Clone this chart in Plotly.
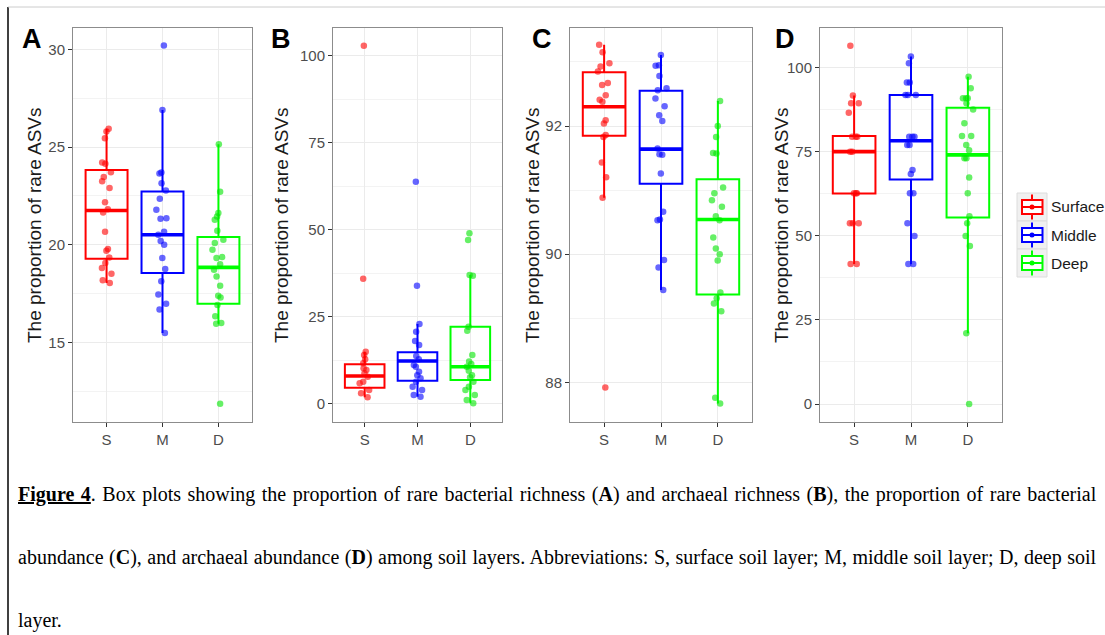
import plotly.graph_objects as go

W, H = 1105, 635

categories = ["S", "M", "D"]
layers = ["Surface", "Middle", "Deep"]
line_colors = ["#ff0000", "#0000ff", "#00ff00"]
point_colors = ["rgba(255,0,0,0.6)", "rgba(0,0,255,0.6)", "rgba(0,230,0,0.6)"]

# ---------------- Panel A: rare bacterial richness ----------------
A_surface = [25.93, 25.79, 25.45, 24.21, 24.14, 23.71, 23.46, 23.25, 22.90, 22.18, 21.82,
             21.65, 20.66, 19.78, 19.69, 19.35, 19.06, 18.81, 18.52, 18.18, 18.04]
A_middle = [30.19, 26.90, 23.70, 23.65, 23.15, 22.78, 22.35, 21.79, 21.35, 21.33, 20.66,
            20.51, 20.19, 20.00, 19.32, 18.76, 18.13, 17.46, 16.98, 16.68, 15.49]
A_deep = [25.14, 22.71, 21.62, 21.45, 21.28, 20.72, 20.26, 20.09, 19.74, 19.37, 19.32,
          19.00, 18.72, 18.38, 17.90, 17.39, 17.30, 16.92, 16.34, 16.00, 15.96, 11.87]
A_q1 = [19.28, 18.55, 16.98]
A_median = [21.75, 20.51, 18.84]
A_q3 = [23.82, 22.73, 20.39]
A_lower = [18.04, 15.49, 15.96]
A_upper = [25.93, 26.90, 25.14]

# ---------------- Panel B: rare archaeal richness ----------------
B_surface = [102.97, 35.95, 14.96, 14.0, 12.75, 11.6, 10.16, 9.68, 8.72, 7.77, 6.33,
             5.85, 3.93, 2.97, 1.82]
B_middle = [63.85, 33.9, 22.9, 20.7, 18.0, 16.9, 13.7, 12.8, 11.1, 10.6, 9.2, 8.2,
            7.3, 6.3, 4.9, 3.9, 2.5, 2.0]
B_deep = [49.0, 47.1, 37.0, 36.8, 22.1, 21.0, 14.0, 12.1, 11.4, 10.6, 9.5, 8.2, 7.6,
          6.3, 4.9, 3.9, 2.5, 1.05, 0.1]
B_q1 = [4.60, 6.62, 6.80]
B_median = [7.96, 12.27, 10.64]
B_q3 = [11.31, 14.77, 22.10]
B_lower = [1.82, 2.0, 0.1]
B_upper = [14.96, 22.9, 37.0]

# ---------------- Panel C: rare bacterial abundance ----------------
C_surface = [93.27, 93.15, 92.98, 92.93, 92.85, 92.67, 92.64, 92.48, 92.41, 92.38,
             92.09, 92.04, 91.86, 91.83, 91.43, 91.20, 90.88, 87.92]
C_middle = [93.11, 92.95, 92.94, 92.78, 92.59, 92.56, 92.43, 92.31, 92.17, 92.08,
            91.65, 91.56, 91.55, 91.26, 90.66, 90.54, 90.53, 89.91, 89.79, 89.44]
C_deep = [92.39, 92.00, 91.83, 91.58, 91.57, 91.04, 90.95, 90.84, 90.74, 90.59, 90.53,
          90.26, 90.09, 90.00, 89.90, 89.40, 89.31, 89.23, 89.11, 87.76, 87.67]
C_q1 = [91.85, 91.10, 89.37]
C_median = [92.30, 91.64, 90.54]
C_q3 = [92.84, 92.55, 91.17]
C_lower = [90.88, 89.44, 87.67]
C_upper = [93.27, 93.11, 92.39]

# ---------------- Panel D: rare archaeal abundance ----------------
D_surface = [106.4, 91.6, 89.3, 89.3, 86.5, 79.4, 79.4, 79.4, 74.95, 74.95, 62.6, 62.6,
             62.6, 53.7, 53.7, 53.7, 41.6, 41.6]
D_middle = [103.2, 101.2, 95.5, 95.5, 91.8, 91.8, 91.8, 79.4, 79.4, 79.4, 76.9, 76.9,
            69.5, 68.3, 62.6, 62.6, 53.7, 49.9, 41.6, 41.6]
D_deep = [97.2, 93.8, 90.8, 90.8, 90.8, 89.3, 87.5, 83.4, 79.6, 79.6, 76.9, 75.4, 73.0,
          73.0, 67.3, 62.6, 55.8, 53.7, 49.9, 46.9, 21.0, 0.0]
D_q1 = [62.5, 66.7, 55.4]
D_median = [74.95, 78.2, 74.0]
D_q3 = [79.6, 91.8, 88.0]
D_lower = [41.6, 41.6, 21.0]
D_upper = [91.6, 103.2, 97.2]

panels = [
    dict(letter="A", pts=[A_surface, A_middle, A_deep], q1=A_q1, med=A_median, q3=A_q3,
         lo=A_lower, hi=A_upper, yrange=[10.93, 31.09], dtick=5, minor=2.5, px=(73, 252)),
    dict(letter="B", pts=[B_surface, B_middle, B_deep], q1=B_q1, med=B_median, q3=B_q3,
         lo=B_lower, hi=B_upper, yrange=[-5.27, 108.05], dtick=25, minor=12.5, px=(333, 502)),
    dict(letter="C", pts=[C_surface, C_middle, C_deep], q1=C_q1, med=C_median, q3=C_q3,
         lo=C_lower, hi=C_upper, yrange=[87.38, 93.53], dtick=2, minor=1, px=(570, 752)),
    dict(letter="D", pts=[D_surface, D_middle, D_deep], q1=D_q1, med=D_median, q3=D_q3,
         lo=D_lower, hi=D_upper, yrange=[-5.34, 111.67], dtick=25, minor=12.5, px=(820, 1002)),
]
letter_x = [20, 269, 530, 773]
title_x = [34, 281, 532, 781]

PLOT_TOP, PLOT_BOTTOM = 28, 422
ydom = [1 - PLOT_BOTTOM / H, 1 - PLOT_TOP / H]


def px_x(v):
    return v / W


def px_y(v):
    return 1 - v / H


fig = go.Figure()
layout = dict(
    width=W, height=H, margin=dict(l=0, r=0, t=0, b=0),
    paper_bgcolor="white", plot_bgcolor="white",
    font=dict(family="Liberation Sans, Arial, sans-serif", color="#333333"),
    showlegend=False,
    annotations=[], shapes=[],
)

for pi, p in enumerate(panels):
    suffix = "" if pi == 0 else str(pi + 1)
    xa, ya = "x" + suffix, "y" + suffix
    for gi in range(3):
        # box body
        fig.add_trace(go.Box(
            x=[gi], q1=[p["q1"][gi]], median=[p["med"][gi]], q3=[p["q3"][gi]],
            lowerfence=[p["lo"][gi]], upperfence=[p["hi"][gi]],
            width=0.75, whiskerwidth=0, boxpoints=False,
            line=dict(color=line_colors[gi], width=2), fillcolor="rgba(255,255,255,0)",
            name=layers[gi], legendgroup=layers[gi],
            xaxis=xa, yaxis=ya, hoverinfo="skip"))
        # thick median
        m = p["med"][gi]
        fig.add_trace(go.Box(
            x=[gi], q1=[m], median=[m], q3=[m], lowerfence=[m], upperfence=[m],
            width=0.75, whiskerwidth=0, boxpoints=False,
            line=dict(color=line_colors[gi], width=3.6), fillcolor="rgba(255,255,255,0)",
            name=layers[gi], legendgroup=layers[gi],
            xaxis=xa, yaxis=ya, hoverinfo="skip"))
        # jittered points
        fig.add_trace(go.Box(
            x=[gi] * len(p["pts"][gi]), y=p["pts"][gi],
            width=0.75, boxpoints="all", jitter=0.3, pointpos=0,
            line=dict(color="rgba(0,0,0,0)", width=0), fillcolor="rgba(0,0,0,0)",
            marker=dict(color=point_colors[gi], size=6.5, line=dict(width=0)),
            name=layers[gi], legendgroup=layers[gi],
            xaxis=xa, yaxis=ya, hoverinfo="skip"))

    x0, x1 = p["px"]
    layout["xaxis" + suffix] = dict(
        domain=[x0 / W, x1 / W], anchor=ya, range=[-0.6, 2.6],
        tickvals=[0, 1, 2], ticktext=categories, showgrid=True, gridcolor="#ebebeb",
        gridwidth=1, zeroline=False, showline=True, mirror=True, linecolor="#8c8c8c",
        linewidth=1, ticks="outside", ticklen=4, tickcolor="#333333",
        tickfont=dict(size=15, color="#4d4d4d"), fixedrange=True)
    layout["yaxis" + suffix] = dict(
        domain=ydom, anchor=xa, range=p["yrange"], tick0=0, dtick=p["dtick"],
        showgrid=True, gridcolor="#ebebeb", gridwidth=1, zeroline=False,
        showline=True, mirror=True, linecolor="#8c8c8c", linewidth=1,
        ticks="outside", ticklen=4, tickcolor="#333333",
        tickfont=dict(size=15, color="#4d4d4d"),
        minor=dict(dtick=p["minor"], tick0=0, showgrid=True, gridcolor="#f3f3f3",
                   gridwidth=0.6, ticks=""),
        fixedrange=True)
    layout["annotations"].append(dict(
        text="The proportion of rare ASVs", textangle=-90, xref="paper", yref="paper",
        x=px_x(title_x[pi]), y=px_y((PLOT_TOP + PLOT_BOTTOM) / 2),
        xanchor="center", yanchor="middle", showarrow=False,
        font=dict(size=19, color="#1a1a1a", family="Liberation Sans, Arial, sans-serif")))
    layout["annotations"].append(dict(
        text="<b>" + p["letter"] + "</b>", xref="paper", yref="paper",
        x=px_x(letter_x[pi]), y=px_y(56), xanchor="left", yanchor="bottom",
        showarrow=False,
        font=dict(size=27, color="black", family="Liberation Sans, Arial, sans-serif")))

# ---------------- manual legend (ggplot style keys) ----------------
KEY_X0, KEY_X1, KEY_TOP, KEY_H = 1017, 1047, 193, 28
kx = (KEY_X0 + KEY_X1) / 2
for gi, name in enumerate(layers):
    t = KEY_TOP + gi * KEY_H
    c = line_colors[gi]
    layout["shapes"] += [
        dict(type="rect", xref="paper", yref="paper", x0=px_x(KEY_X0), x1=px_x(KEY_X1),
             y0=px_y(t), y1=px_y(t + KEY_H), fillcolor="#f0f0f0",
             line=dict(color="#dcdcdc", width=1)),
        dict(type="line", xref="paper", yref="paper", x0=px_x(kx), x1=px_x(kx),
             y0=px_y(t + 1.5), y1=px_y(t + KEY_H - 1.5), line=dict(color=c, width=2)),
        dict(type="rect", xref="paper", yref="paper", x0=px_x(KEY_X0 + 5), x1=px_x(KEY_X1 - 4.5),
             y0=px_y(t + 7), y1=px_y(t + 21), fillcolor="white", line=dict(color=c, width=2)),
        dict(type="line", xref="paper", yref="paper", x0=px_x(KEY_X0 + 5), x1=px_x(KEY_X1 - 4.5),
             y0=px_y(t + 14), y1=px_y(t + 14), line=dict(color=c, width=2)),
        dict(type="circle", xref="paper", yref="paper", x0=px_x(kx - 2.5), x1=px_x(kx + 2.5),
             y0=px_y(t + 11.5), y1=px_y(t + 16.5), fillcolor=c, line=dict(width=0)),
    ]
    layout["annotations"].append(dict(
        text=name, xref="paper", yref="paper", x=px_x(1049), y=px_y(t + 14),
        xanchor="left", yanchor="middle", showarrow=False,
        font=dict(size=15.5, color="#1a1a1a", family="Liberation Sans, Arial, sans-serif")))

# ---------------- caption ----------------
caption_lines = [
    "<span style=\"word-spacing:1.5px\"><b><u>Figure 4</u></b>. Box plots showing the proportion "
    "of rare bacterial richness (<b>A</b>) and archaeal richness (<b>B</b>), the proportion of "
    "rare bacterial</span>",
    "<span style=\"word-spacing:0.5px\">abundance (<b>C</b>), and archaeal abundance (<b>D</b>) "
    "among soil layers. Abbreviations: S, surface soil layer; M, middle soil layer; D, deep "
    "soil</span>",
    "layer.",
]
caption_y = [495, 557.5, 620]
for t, yy in zip(caption_lines, caption_y):
    layout["annotations"].append(dict(
        text=t, xref="paper", yref="paper", x=px_x(16), y=px_y(yy),
        xanchor="left", yanchor="middle", showarrow=False, align="left",
        font=dict(size=20, color="black", family="Liberation Serif, Times New Roman, serif")))

# page frame lines
layout["shapes"].append(dict(type="line", xref="paper", yref="paper",
                             x0=px_x(8), x1=px_x(8), y0=px_y(7), y1=0,
                             line=dict(color="black", width=1.5)))
layout["shapes"].append(dict(type="line", xref="paper", yref="paper",
                             x0=px_x(8), x1=1, y0=px_y(7), y1=px_y(7),
                             line=dict(color="#cccccc", width=1)))

fig.update_layout(**layout)
fig.write_html("out.html")
